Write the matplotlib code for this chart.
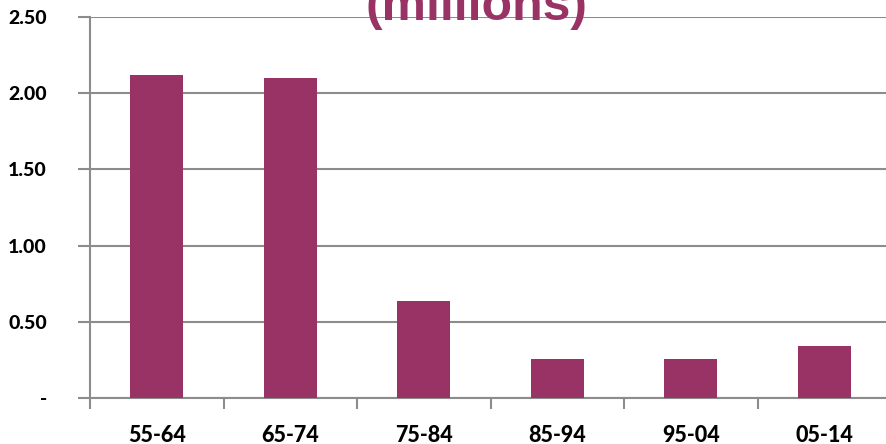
import numpy as np
import matplotlib.pyplot as plt

# Datos
categorias = ['55-64', '65-74', '75-84', '85-94', '95-04', '05-14']
valores = [2.12, 2.10, 0.64, 0.26, 0.26, 0.34]
yticks = [0, 0.5, 1.0, 1.5, 2.0, 2.5]
ytick_labels = ['-', '0.50', '1.00', '1.50', '2.00', '2.50']

color_barra = '#993366'
gris = '#8c8c8c'

W, H = 887, 444
fig = plt.figure(figsize=(W / 100, H / 100), dpi=100)
# el eje se sale por la derecha, como en la imagen original
ax = fig.add_axes([90 / W, (H - 398.3) / H, (891 - 90) / W, (398.3 - 16.7) / H])

x = np.arange(len(categorias)) + 0.5
ax.bar(x, valores, width=0.4, color=color_barra, zorder=3)

ax.set_xlim(0, len(categorias))
ax.set_ylim(0, 2.5)
ax.set_yticks(yticks)
ax.set_yticklabels(ytick_labels)
ax.set_xticks(x)
ax.set_xticklabels(categorias)
ax.set_xticks(np.arange(len(categorias) + 1), minor=True)

ax.grid(axis='y', color=gris, linewidth=1.5, zorder=0)
for s in ['top', 'right']:
    ax.spines[s].set_visible(False)
for s in ['left', 'bottom']:
    ax.spines[s].set_color(gris)
    ax.spines[s].set_linewidth(1.5)

ax.tick_params(axis='y', length=9, width=1.5, color=gris, pad=22)
ax.tick_params(axis='x', which='major', length=0, pad=19)
ax.tick_params(axis='x', which='minor', length=8, width=1.5, color=gris)

for lbl in ax.get_xticklabels():
    lbl.set_fontfamily('Lato')
    lbl.set_fontweight('black')
    lbl.set_fontsize(15.5)
for lbl in ax.get_yticklabels():
    lbl.set_fontfamily('Lato')
    lbl.set_fontweight('black')
    lbl.set_fontsize(14)

# titulo (cortado arriba)
fig.text(477 / W, (H - 20) / H, '(millions)', ha='center', va='baseline',
         fontsize=36, fontweight='bold', family='Liberation Sans',
         color=color_barra, zorder=10)

fig.savefig('out.png', dpi=100)
